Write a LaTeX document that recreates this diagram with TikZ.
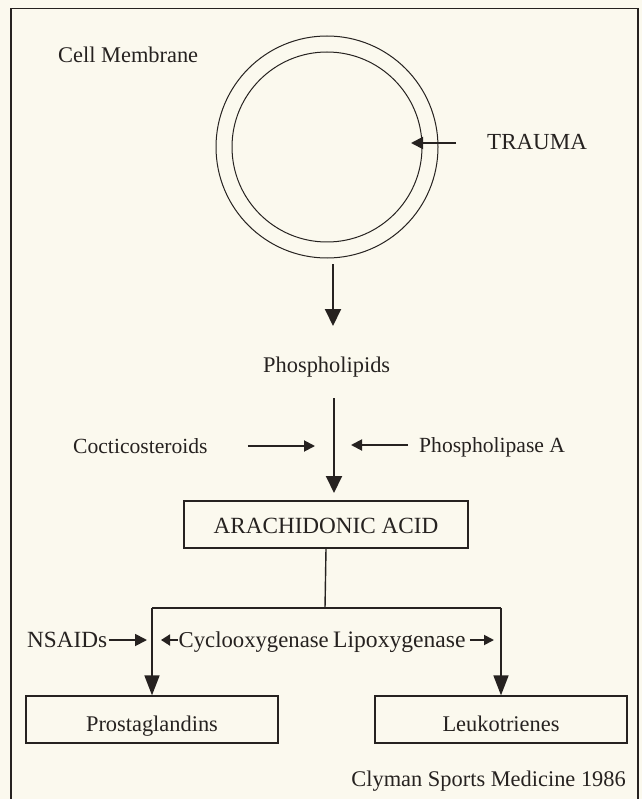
\documentclass[tikz,border=0pt]{standalone}
\usepackage{fontspec}
\setmainfont{Liberation Serif}
\usetikzlibrary{arrows.meta}
\definecolor{paper}{RGB}{251,249,238}
\definecolor{ink}{RGB}{38,34,32}
\begin{document}
\begin{tikzpicture}[x=1pt,y=-1pt,
  lbl/.style={inner sep=0pt, text=ink, anchor=base west, font=\fontsize{22.4}{26}\selectfont},
  capslbl/.style={lbl, font=\fontsize{23}{26}\selectfont},
  box/.style={draw=ink, line width=1.3pt, inner sep=0pt, text=ink, font=\fontsize{22.4}{26}\selectfont},
  ring/.style={draw=ink, line width=1pt, circle, inner sep=0pt},
  bigarrow/.style={draw=ink, line width=2pt, -{Triangle[length=17pt,width=16pt]}},
  sidearrow/.style={draw=ink, line width=1.9pt, -{Triangle[length=11pt,width=11pt]}},
  smallarrow/.style={draw=ink, line width=1.8pt, -{Triangle[length=10pt,width=10pt]}},
  connector/.style={draw=ink, line width=1.4pt},
  ]
\fill[paper] (0,0) rectangle (642,799);
\useasboundingbox (0,0) rectangle (642,799);
% frame
\draw[ink, line width=1.2pt] (11,805) -- (11,8.5) -- (638,8.5) -- (638,805);

% cell membrane
\node[ring, minimum size=222pt] (outer) at (327,147) {};
\node[ring, minimum size=190pt] (inner) at (327,147) {};
\node[lbl] (cm) at (58,62.5) {Cell Membrane};
\node[capslbl] (trauma) at (487,150) {TRAUMA};
\coordinate (trTail) at (456,143);
\coordinate (trTip) at (411,143);
\draw[sidearrow, -{Triangle[length=12pt,width=12pt]}] (trTail) -- (trTip);

% membrane to phospholipids
\coordinate (a1s) at (333,264);
\coordinate (a1e) at (333,326);
\draw[bigarrow] (a1s) -- (a1e);
\node[lbl] (phos) at (263,372.5) {Phospholipids};

% phospholipids to arachidonic acid
\coordinate (a2s) at (334,398);
\coordinate (a2e) at (334,493);
\draw[bigarrow] (a2s) -- (a2e);
\node[lbl, font=\fontsize{21.6}{26}\selectfont] (cortico) at (73,453) {Cocticosteroids};
\node[lbl, font=\fontsize{21.6}{26}\selectfont] (pla) at (419,452.5) {Phospholipase A};
\coordinate (coTip) at (315,446);
\coordinate (plTip) at (351,445);
\draw[sidearrow] ([xshift=40pt]cortico.base east) ++(0,-7) -- (coTip);
\draw[sidearrow] ([xshift=-11pt]pla.base west) ++(0,-7.5) -- (plTip);

\node[box, minimum width=284pt, minimum height=47pt, text height=17pt, text depth=0pt, font=\fontsize{23.2}{26}\selectfont] (aa) at (326,524.6) {ARACHIDONIC ACID};

% split
\coordinate (jn) at (325,608);
\draw[connector] (aa.south) -- (jn);
\node[box, minimum width=252pt, minimum height=47pt, text height=23pt, text depth=0pt] (pg) at (152,719.5) {Prostaglandins};
\node[box, minimum width=252pt, minimum height=47pt, text height=23pt, text depth=0pt] (lk) at (501,719.5) {Leukotrienes};
\draw[connector] (jn) -- (pg.north |- jn);
\draw[connector] (jn) -- (lk.north |- jn);
\draw[bigarrow, line width=1.7pt, -{Triangle[length=20pt,width=15pt]}] (pg.north |- jn) -- (pg.north);
\draw[bigarrow, line width=1.7pt, -{Triangle[length=20pt,width=15pt]}] (lk.north |- jn) -- (lk.north);

% enzyme labels
\node[lbl, font=\fontsize{23.2}{26}\selectfont] (nsaid) at (27,647) {NSAIDs};
\node[lbl, font=\fontsize{22.7}{26}\selectfont] (cox) at (178.5,647) {Cyclooxygenase};
\node[lbl, font=\fontsize{23.6}{26}\selectfont] (lox) at (333,647) {Lipoxygenase};
\coordinate (nsTip) at (147,640);
\coordinate (cxTip) at (161,640);
\coordinate (lxTip) at (494,640);
\draw[smallarrow, -{Triangle[length=12pt,width=12pt]}] ([xshift=1.5pt]nsaid.base east) ++(0,-7) -- (nsTip);
\draw[smallarrow, -{Triangle[length=9pt,width=11pt]}] ([xshift=-1pt]cox.base west) ++(0,-7) -- (cxTip);
\draw[smallarrow] ([xshift=4pt]lox.base east) ++(0,-7) -- (lxTip);

% source
\node[lbl, anchor=base east] (src) at (626,786) {Clyman Sports Medicine 1986};
\end{tikzpicture}
\end{document}
